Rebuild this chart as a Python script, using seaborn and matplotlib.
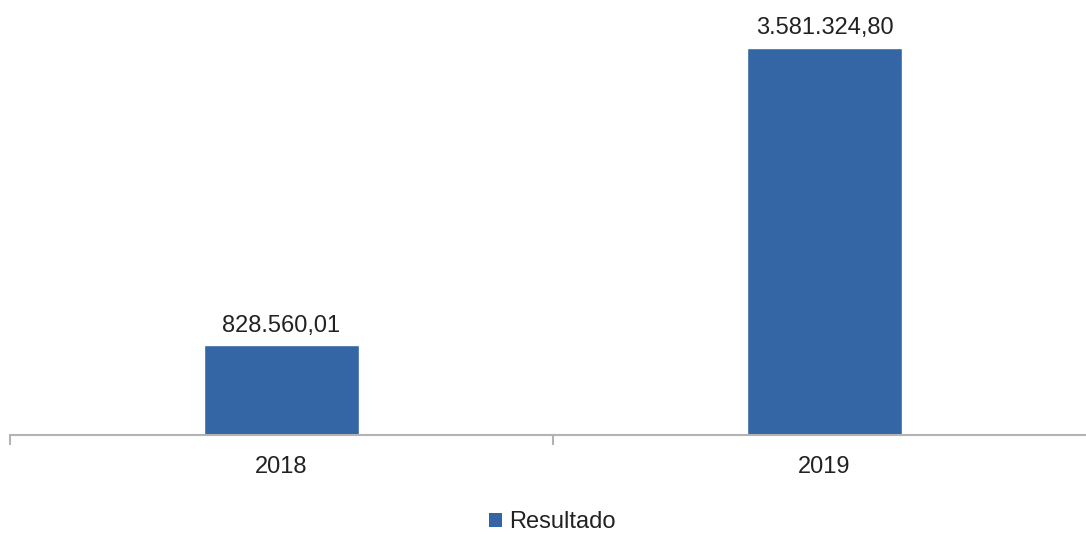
import matplotlib
matplotlib.use('Agg')
import matplotlib.pyplot as plt
import seaborn as sns
import pandas as pd
from matplotlib.patches import Patch

# data
years = ['2018', '2019']
resultado = [828560.01, 3581324.80]
series_name = 'Resultado'

bar_color = '#3465A4'
text_color = '#222222'


def fmt_br(v):
    # 3,581,324.80 -> 3.581.324,80
    return f'{v:,.2f}'.replace(',', 'X').replace('.', ',').replace('X', '.')


sns.set_style('white')
plt.rcParams['font.family'] = ['Liberation Sans', 'DejaVu Sans']

df = pd.DataFrame({'ano': years, 'valor': resultado})

fig = plt.figure(figsize=(10.86, 5.35), dpi=100)
ax = fig.add_axes([10 / 1086, 100 / 535, 1086 / 1086, 425 / 535])

sns.barplot(data=df, x='ano', y='valor', color=bar_color, width=0.285,
            saturation=1, ax=ax)

ax.set_xlim(-0.5, 1.5)
ax.set_ylim(0, 3581324.80 * 425 / 387)

for bar, v in zip(ax.patches, resultado):
    ax.annotate(fmt_br(v), (bar.get_x() + bar.get_width() / 2, bar.get_height()),
                xytext=(0, 10), textcoords='offset points',
                ha='center', va='baseline', fontsize=17, color=text_color)

# axis styling
for side in ['top', 'right', 'left']:
    ax.spines[side].set_visible(False)
ax.spines['bottom'].set_color('#b3b3b3')
ax.spines['bottom'].set_linewidth(1.5)
ax.set_yticks([])
ax.set_xlabel('')
ax.set_ylabel('')
ax.tick_params(axis='x', which='major', bottom=False, length=0, pad=15,
               labelsize=17, labelcolor=text_color)
ax.set_xticks([-0.5, 0.5, 1.5], minor=True)
ax.tick_params(axis='x', which='minor', bottom=True, length=7.5, width=1.5,
               color='#b3b3b3', direction='out')

handle = Patch(facecolor=bar_color, edgecolor='none')
fig.legend([handle], [series_name], loc='center', bbox_to_anchor=(552 / 1086, 13 / 535),
           frameon=False, fontsize=17, handlelength=0.55, handleheight=0.55,
           handletextpad=0.3, labelcolor=text_color, borderpad=0.1)

fig.savefig('out.png', dpi=100)
plt.close(fig)
